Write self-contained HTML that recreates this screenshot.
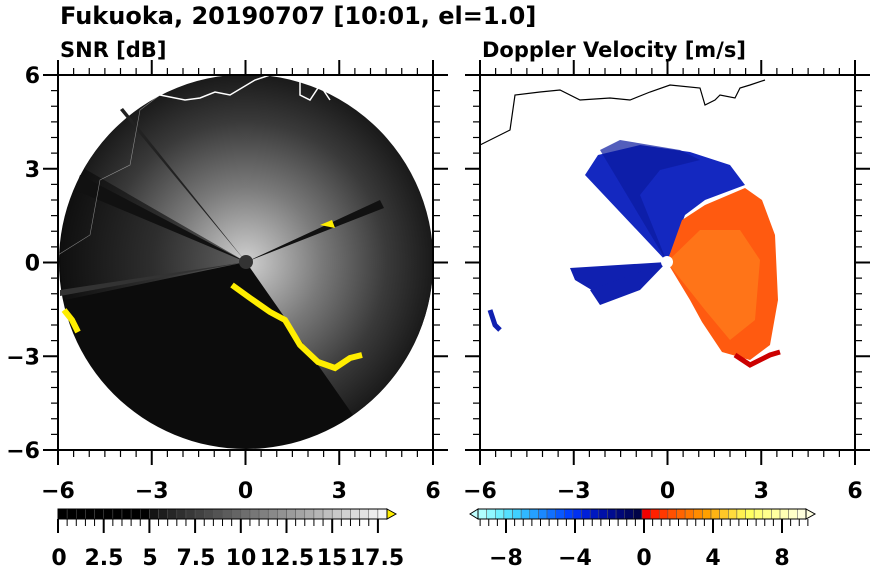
<!DOCTYPE html>
<html><head><meta charset="utf-8"><style>
html,body{margin:0;padding:0;background:#fff;}
svg{display:block;font-family:"DejaVu Sans","Liberation Sans",sans-serif;font-weight:bold;}
</style></head><body>
<svg id="s" width="870" height="570" viewBox="0 0 870 570" xmlns="http://www.w3.org/2000/svg">
<defs>
<radialGradient id="g1" cx="246" cy="262" r="187" gradientUnits="userSpaceOnUse">
<stop offset="0" stop-color="#d0d0d0"/><stop offset="0.4" stop-color="#7a7a7a"/><stop offset="0.75" stop-color="#3a3a3a"/><stop offset="1" stop-color="#1a1a1a"/></radialGradient>
<radialGradient id="g2" cx="246" cy="262" r="187" gradientUnits="userSpaceOnUse">
<stop offset="0" stop-color="#999"/><stop offset="0.5" stop-color="#444"/><stop offset="1" stop-color="#111"/></radialGradient>
<clipPath id="c1"><rect x="58" y="75" width="375" height="375"/></clipPath>
<clipPath id="c2"><rect x="480" y="75" width="375" height="375"/></clipPath>
</defs>
<text x="60" y="24" font-size="24">Fukuoka, 20190707 [10:01, el=1.0]</text>
<text x="60" y="57" font-size="21">SNR [dB]</text>
<text x="482" y="57" font-size="21">Doppler Velocity [m/s]</text>
<g clip-path="url(#c1)">
<circle cx="246" cy="262" r="187" fill="#0c0c0c"/>
<path d="M246,262 L84,168.5 A187,187 0 1 1 353,415 Z" fill="url(#g1)"/>
<path d="M246,262 L84,168.5 A187,187 0 0 0 65,300 Z" fill="url(#g2)" opacity="0.6"/>
<path d="M246,262 L80,175 L75,190 Z" fill="#111"/>
<path d="M246,262 L380,200 L384,208 Z" fill="#111"/>
<path d="M246,262 L120,110 L123,108 Z" fill="#222"/>
<path d="M246,262 L60,290 L60,296 Z" fill="#333"/>
<circle cx="246" cy="262" r="7" fill="#333"/>
<polyline points="232,285 250,298 270,312 285,320 300,345 318,362 335,368 350,358 362,355" fill="none" stroke="#ffee00" stroke-width="6"/>
<polyline points="64,310 72,320 78,332" fill="none" stroke="#ffee00" stroke-width="6"/>
<path d="M320,225 L332,220 L335,228 Z" fill="#ffee00"/>
<polyline points="160,95 185,100 200,98 215,92 230,95 255,80 270,75 300,78 300,95 310,100 320,85 330,100" fill="none" stroke="#fff" stroke-width="1.5"/>
<polyline points="58,255 90,235 100,180 130,165 140,110 160,95" fill="none" stroke="#eee" stroke-width="0.6" opacity="0.5"/>
</g>
<g clip-path="url(#c2)">
<polygon points="667,262 585,175 598,155 640,145 690,152 730,165 745,185 705,200 685,215" fill="#1428c0"/>
<polygon points="667,262 600,150 620,140 680,150 700,160 660,170 640,195" fill="#0a1aa0" opacity="0.7"/>
<polygon points="667,262 682,220 705,205 745,188 762,200 775,235 778,300 770,345 750,360 722,352 702,322 690,300" fill="#ff5a10"/>
<polygon points="667,262 700,230 740,230 760,260 755,320 730,340 705,310" fill="#ff7a1a" opacity="0.8"/>
<polyline points="735,355 750,365 770,355 780,352" fill="none" stroke="#cc0000" stroke-width="5"/>
<polygon points="667,262 570,268 575,280 600,295 640,285" fill="#1020b0"/>
<polygon points="667,262 590,290 600,305 640,290" fill="#1020b0"/>
<polyline points="490,310 495,325 500,330" fill="none" stroke="#1020b0" stroke-width="5"/>
<circle cx="667" cy="262" r="6" fill="#fff"/>
<polyline points="480,145 510,130 515,95 540,92 560,90 580,100 610,98 630,100 650,92 670,85 700,88 705,105 715,100 720,95 735,98 740,88 750,85 765,80" fill="none" stroke="#000" stroke-width="1.2"/>
</g>
<g id="ax" fill="none" stroke="#000" stroke-width="2"></g>
<g id="lab" font-size="22" text-anchor="middle"></g>
<g id="cb"></g>
</svg>
<script>
var ns="http://www.w3.org/2000/svg",ax=document.getElementById('ax'),lab=document.getElementById('lab'),cb=document.getElementById('cb');
function el(p,t,a,tx){var e=document.createElementNS(ns,t);for(var k in a)e.setAttribute(k,a[k]);if(tx)e.textContent=tx;p.appendChild(e);return e;}
var L=['−6','−3','0','3','6'],Ly=['6','3','0','−3','−6'];
[58,480].forEach(function(x0,pi){
 el(ax,'rect',{x:x0,y:75,width:375,height:375});
 for(var i=0;i<=24;i++){var d=i*375/24,m=i%6==0?15:7;
  el(ax,'line',{x1:x0+d,y1:450,x2:x0+d,y2:450+m,'stroke-width':m>10?2:1.2});
  el(ax,'line',{x1:x0+d,y1:75,x2:x0+d,y2:75-m,'stroke-width':m>10?2:1.2});
  el(ax,'line',{x1:x0,y1:75+d,x2:x0-m,y2:75+d,'stroke-width':m>10?2:1.2});
  el(ax,'line',{x1:x0+375,y1:75+d,x2:x0+375+m,y2:75+d,'stroke-width':m>10?2:1.2});}
 for(var j=0;j<5;j++){el(lab,'text',{x:x0+j*93.75,y:498},L[j]);
  if(pi==0)el(lab,'text',{x:40,y:83+j*93.75,'text-anchor':'end'},Ly[j]);}
});
var w=9.14;
for(var i=0;i<36;i++){var v=i<10?0:Math.round(20+(i-10)*9);var c='rgb('+v+','+v+','+v+')';
 el(cb,'rect',{x:58+i*w,y:509,width:w,height:10,fill:c,stroke:'#555','stroke-width':0.5});
 var m=i%5==0?14:7;el(cb,'line',{x1:58+i*w,y1:519,x2:58+i*w,y2:519+m,stroke:'#000','stroke-width':m>10?2:1});}
el(cb,'polygon',{points:'387,509 396,514 387,519',fill:'#ffee00',stroke:'#000'});
el(cb,'rect',{x:58,y:509,width:329,height:10,fill:'none',stroke:'#000','stroke-width':1});
[['0',59],['2.5',104],['5',150],['7.5',196],['10',241],['12.5',287],['15',332],['17.5',377]].forEach(function(a){el(lab,'text',{x:a[1],y:565},a[0]);});
var blues=['#b0ffff','#90f8ff','#70f0ff','#55e0ff','#40d0ff','#30b8ff','#25a0ff','#1a88ff','#1070ff','#0858ff','#0040ff','#0030f0','#0020d8','#0018c0','#0010a8','#000c90','#000878','#000660','#000448'];
var reds=['#f00000','#ff2000','#ff3800','#ff5000','#ff6400','#ff7800','#ff8c00','#ffa000','#ffb414','#ffc828','#ffdc3c','#fff050','#ffff60','#ffff78','#ffff8c','#ffffa0','#ffffb4','#ffffc8','#ffffdc'];
var cols=blues.concat(reds),w2=8.63,x0=478;
for(var i=0;i<38;i++){el(cb,'rect',{x:x0+i*w2,y:509,width:w2,height:10,fill:cols[i],stroke:'#555','stroke-width':0.5});}
for(var v=-9.5;v<=9.51;v+=0.5){var x=644+v*17.25;if(x<478||x>808)continue;var big=Math.abs(v%4)<0.01;el(cb,'line',{x1:x,y1:519,x2:x,y2:519+(big?14:7),stroke:'#000','stroke-width':big?2:1});}
el(cb,'polygon',{points:'478,509 470,514 478,519',fill:'#c0ffff',stroke:'#000'});
el(cb,'polygon',{points:'806,509 815,514 806,519',fill:'#ffffe0',stroke:'#000'});
el(cb,'rect',{x:478,y:509,width:328,height:10,fill:'none',stroke:'#000','stroke-width':1});
[['−8',506],['−4',575],['0',644],['4',713],['8',782]].forEach(function(a){el(lab,'text',{x:a[1],y:565},a[0]);});
</script>
</body></html>
